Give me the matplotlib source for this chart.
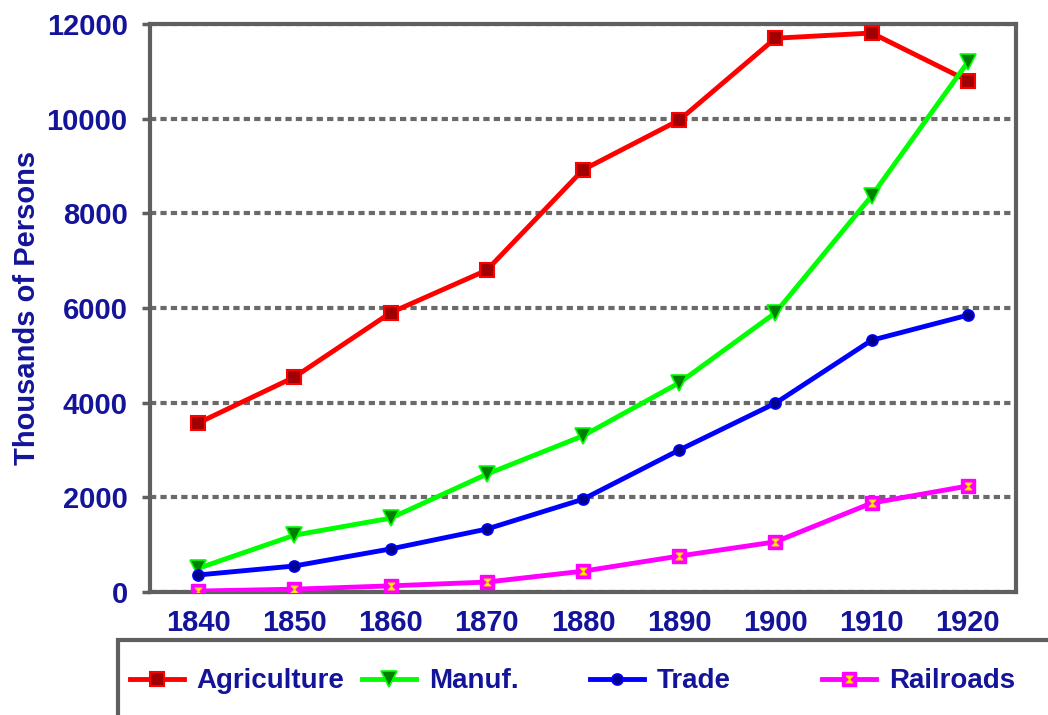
import matplotlib.pyplot as plt
from matplotlib.patches import Rectangle

years = ['1840', '1850', '1860', '1870', '1880', '1890', '1900', '1910', '1920']
agriculture = [3570, 4540, 5900, 6800, 8920, 9970, 11700, 11810, 10800]
manufacturing = [500, 1200, 1560, 2490, 3300, 4420, 5900, 8370, 11200]
trade = [360, 550, 910, 1330, 1960, 3000, 3990, 5320, 5850]
railroads = [20, 60, 130, 210, 440, 760, 1060, 1880, 2240]
yticks = [0, 2000, 4000, 6000, 8000, 10000, 12000]

txt = '#14149a'
frame = '#5f5f5f'
fs = 21
plt.rcParams['font.family'] = ['Liberation Sans', 'DejaVu Sans']
plt.rcParams['font.weight'] = 'bold'

fig = plt.figure(figsize=(10.48, 7.15), dpi=100)
ax = fig.add_axes([0.1431, 0.172, 0.8264, 0.7944])
x = list(range(len(years)))

hourglass = [(-1, 1), (1, 1), (-1, -1), (1, -1), (-1, 1)]
h_agr, = ax.plot(x, agriculture, color='#ff0000', lw=3.5, marker='s', ms=10,
                 mfc='#a00000', mec='#ff0000', mew=1.5, zorder=5)
h_man, = ax.plot(x, manufacturing, color='#00ff00', lw=3.5, marker='v', ms=11,
                 mfc='#008000', mec='#00ff00', mew=1.2, zorder=5)
h_trd, = ax.plot(x, trade, color='#0000ff', lw=3.5, marker='o', ms=8,
                 mfc='#000090', mec='#0000ff', mew=1.2, zorder=5)
h_rr, = ax.plot(x, railroads, color='#ff00ff', lw=3.5, marker='s', ms=10,
                mfc='#ff00ff', mec='#ff00ff', zorder=5)
h_rr2, = ax.plot(x, railroads, ls='none', marker=hourglass, ms=5,
                 mfc='#ffff00', mec='#ffd000', mew=0.8, zorder=6)

ax.set_xlim(-0.5, len(years) - 0.5)
ax.set_ylim(0, 12000)
ax.set_xticks(x)
ax.set_xticklabels(years)
ax.set_yticks(yticks)
ax.tick_params(axis='x', length=0, pad=12, labelsize=fs, labelcolor=txt)
ax.tick_params(axis='y', length=6, width=2.5, color=frame, pad=10,
               labelsize=fs, labelcolor=txt)
for lab in ax.get_xticklabels() + ax.get_yticklabels():
    lab.set_fontweight('bold')
ax.set_ylabel('Thousands of Persons', fontsize=fs, color=txt,
              fontweight='bold', labelpad=4)
ax.yaxis.grid(True, linestyle=(0, (1.5, 1.0)), color='#6a6a6a', lw=3)
ax.set_axisbelow(True)
for s in ax.spines.values():
    s.set_color(frame)
    s.set_linewidth(3)

# legend box below the plot, one entry per fixed column
fig.patches.append(Rectangle((0.1126, -0.01), 0.9, 0.115, transform=fig.transFigure,
                             fill=False, edgecolor=frame, lw=3))
entries = [(h_agr, 'Agriculture'), (h_man, 'Manuf.'), (h_trd, 'Trade'),
           ((h_rr, h_rr2), 'Railroads')]
col_x = [130, 362, 590, 822]
for (h, name), cx in zip(entries, col_x):
    leg = fig.legend([h], [name], loc='center left', bbox_to_anchor=(cx / 1048, 0.047),
                     frameon=False, fontsize=20, handlelength=1.95, handletextpad=0.45,
                     borderpad=0, borderaxespad=0)
    for t in leg.get_texts():
        t.set_color(txt)
        t.set_fontweight('bold')

fig.savefig('out.png', dpi=100)
